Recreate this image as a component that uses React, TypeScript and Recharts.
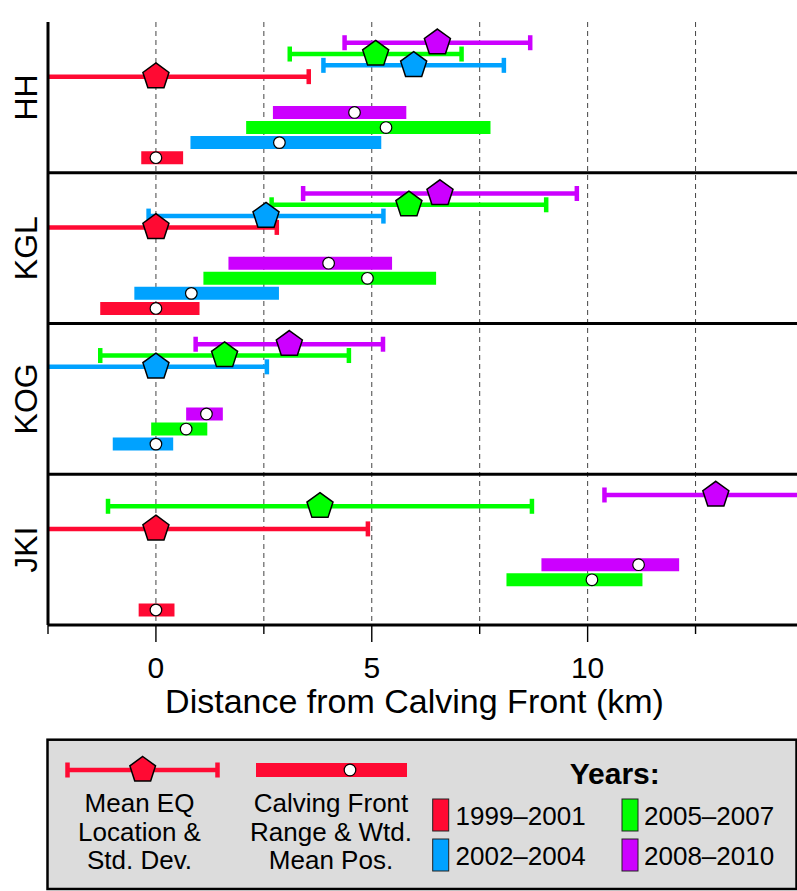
import { ComposedChart, XAxis, YAxis, Scatter, ErrorBar, CartesianGrid, ReferenceLine } from "recharts"

const FONT = '"Liberation Sans", Arial, Helvetica, sans-serif'

const sites = ["HH", "KGL", "KOG", "JKI"]
const periods = ["1999–2001", "2002–2004", "2005–2007", "2008–2010"]
const periodColors = ["#ff0a33", "#00a2ff", "#00ff00", "#cc00ff"]
const xTicks = [-2.5, 0, 2.5, 5, 7.5, 10, 12.5]
const gridValues = [0, 2.5, 5, 7.5, 10, 12.5]
const siteTicks = [5, 15, 25, 35]

// mean earthquake location (km from calving front), one value per site; null = no events
const eqMean9901 = [0, 0, null, 0]
const eqMean0204 = [5.97, 2.55, 0, null]
const eqMean0507 = [5.09, 5.86, 1.59, 3.8]
const eqMean0810 = [6.52, 6.58, 3.09, 12.97]

// std. dev. of earthquake location (km)
const eqStd9901 = [3.54, 2.8, null, 4.91]
const eqStd0204 = [2.09, 2.72, 2.57, null]
const eqStd0507 = [1.99, 3.18, 2.88, 4.91]
const eqStd0810 = [2.15, 3.17, 2.17, 2.58]

// calving front range (km)
const frontMin9901 = [-0.34, -1.29, null, -0.4]
const frontMax9901 = [0.63, 1.01, null, 0.43]
const frontMin0204 = [0.8, -0.5, -1.0, null]
const frontMax0204 = [5.22, 2.85, 0.4, null]
const frontMin0507 = [2.09, 1.1, -0.11, 8.12]
const frontMax0507 = [7.75, 6.49, 1.19, 11.27]
const frontMin0810 = [2.71, 1.68, 0.7, 8.93]
const frontMax0810 = [5.8, 5.47, 1.55, 12.12]

// weighted mean front position (km)
const frontPos9901 = [0, 0, null, 0]
const frontPos0204 = [2.86, 0.82, 0, null]
const frontPos0507 = [5.33, 4.9, 0.7, 10.1]
const frontPos0810 = [4.6, 4.0, 1.17, 11.18]

const eqMeans = [eqMean9901, eqMean0204, eqMean0507, eqMean0810]
const eqStds = [eqStd9901, eqStd0204, eqStd0507, eqStd0810]
const frontMins = [frontMin9901, frontMin0204, frontMin0507, frontMin0810]
const frontMaxs = [frontMax9901, frontMax0204, frontMax0507, frontMax0810]
const frontPositions = [frontPos9901, frontPos0204, frontPos0507, frontPos0810]

type Pt = { x: number; y: number; err: number | number[] }

// each site panel is 10 units tall: EQ rows near the top, front bars near the bottom
function eqData(p: number): Pt[] {
  const out: Pt[] = []
  sites.forEach((_, s) => {
    const m = eqMeans[p][s]
    const sd = eqStds[p][s]
    if (m === null || sd === null) return
    out.push({ x: m, y: s * 10 + 1.375 + 0.75 * (3 - p), err: sd })
  })
  return out
}

function frontData(p: number): Pt[] {
  const out: Pt[] = []
  sites.forEach((_, s) => {
    const lo = frontMins[p][s]
    const hi = frontMaxs[p][s]
    const pos = frontPositions[p][s]
    if (lo === null || hi === null || pos === null) return
    out.push({ x: pos, y: s * 10 + 9 - p, err: [pos - lo, hi - pos] })
  })
  return out
}

function pentagonPoints(cx: number, cy: number, r: number) {
  return [0, 1, 2, 3, 4]
    .map((i) => {
      const a = -Math.PI / 2 + (i * 2 * Math.PI) / 5
      return `${cx + r * Math.cos(a)},${cy + r * Math.sin(a)}`
    })
    .join(" ")
}

function Pentagon(props: any) {
  const { cx, cy, fill } = props
  return <polygon points={pentagonPoints(cx, cy, 13.7)} fill={fill} stroke="#000" strokeWidth={1.5} />
}

function WhiteDot(props: any) {
  const { cx, cy } = props
  return <circle cx={cx} cy={cy} r={5.8} fill="#fff" stroke="#000" strokeWidth={1.2} />
}

function BottomTick(props: any) {
  const { x, y, payload } = props
  const major = payload.value % 5 === 0
  return (
    <g>
      <line x1={x} x2={x} y1={y} y2={y + (major ? 17 : 9)} stroke="#000" strokeWidth={1.4} />
      {major && (
        <text x={x} y={y + 42} textAnchor="middle" dominantBaseline="central" fontSize={30} fontFamily={FONT} fill="#000">
          {payload.value}
        </text>
      )}
    </g>
  )
}

function TopTick(props: any) {
  const { x, y, payload } = props
  const major = payload.value % 5 === 0
  return <line x1={x} x2={x} y1={y} y2={y - (major ? 17 : 9)} stroke="#000" strokeWidth={1.4} />
}

function SiteTick(props: any) {
  const { x, y, payload } = props
  const name = sites[Math.floor(payload.value / 10)]
  return (
    <text
      x={x}
      y={y}
      transform={`rotate(-90 ${x} ${y})`}
      textAnchor="middle"
      dominantBaseline="central"
      fontSize={32}
      fontFamily={FONT}
      fill="#000"
    >
      {name}
    </text>
  )
}

function AxisTitle(props: any) {
  const { x, y, width } = props.viewBox
  return (
    <text x={x + width / 2 - 8} y={y + 88} textAnchor="middle" fontSize={34} fontFamily={FONT} fill="#000">
      Distance from Calving Front (km)
    </text>
  )
}

function Legend() {
  const red = periodColors[0]
  const lines1 = ["Mean EQ", "Location &", "Std. Dev."]
  const lines2 = ["Calving Front", "Range & Wtd.", "Mean Pos."]
  const rowsY = [73, 102, 130]
  const swatches = [
    { x: 432.7, y: 69, tx: 455.5, ty: 86 },
    { x: 432.7, y: 109, tx: 455.5, ty: 126 },
    { x: 622, y: 69, tx: 644, ty: 86 },
    { x: 622, y: 109, tx: 644, ty: 126 },
  ]
  return (
    <svg width={797} height={161} style={{ position: "absolute", left: 0, top: 730 }}>
      <rect x={47.5} y={9.7} width={749} height={149.3} fill="#dcdcdc" stroke="#000" strokeWidth={2.5} />
      <line x1={67.5} x2={217.5} y1={40} y2={40} stroke={red} strokeWidth={4.5} />
      <line x1={67.5} x2={67.5} y1={32.5} y2={47.5} stroke={red} strokeWidth={4.5} />
      <line x1={217.5} x2={217.5} y1={32.5} y2={47.5} stroke={red} strokeWidth={4.5} />
      <polygon points={pentagonPoints(142.7, 40, 13.5)} fill={red} stroke="#000" strokeWidth={1.5} />
      <rect x={256} y={33} width={151} height={14} fill={red} />
      <circle cx={350} cy={40} r={5.8} fill="#fff" stroke="#000" strokeWidth={1.2} />
      {lines1.map((t, i) => (
        <text key={t} x={139.5} y={rowsY[i]} textAnchor="middle" dominantBaseline="central" fontSize={26} fontFamily={FONT}>
          {t}
        </text>
      ))}
      {lines2.map((t, i) => (
        <text key={t} x={331} y={rowsY[i]} textAnchor="middle" dominantBaseline="central" fontSize={26} fontFamily={FONT}>
          {t}
        </text>
      ))}
      <text x={614.7} y={43} textAnchor="middle" dominantBaseline="central" fontSize={30} fontWeight="bold" fontFamily={FONT}>
        Years:
      </text>
      {periods.map((p, i) => (
        <g key={p}>
          <rect x={swatches[i].x} y={swatches[i].y} width={16} height={32} fill={periodColors[i]} stroke="#222" strokeWidth={1} />
          <text x={swatches[i].tx} y={swatches[i].ty} dominantBaseline="central" fontSize={26} fontFamily={FONT}>
            {p}
          </text>
        </g>
      ))}
    </svg>
  )
}

// whiskers that run past the x-range get cut at the left/right frame
function PlotClip() {
  return (
    <svg width={0} height={0} style={{ position: "absolute" }}>
      <defs>
        <clipPath id="plot-clip" clipPathUnits="userSpaceOnUse">
          <rect x={48} y={0} width={749} height={730} />
        </clipPath>
      </defs>
    </svg>
  )
}

export default function App() {
  return (
    <div style={{ position: "absolute", left: 0, top: 0, width: 797, height: 891, background: "#fff", fontFamily: FONT }}>
      <style>{`.recharts-errorBar, [class*="errorBar"] { clip-path: url(#plot-clip); }`}</style>
      <PlotClip />
      <ComposedChart width={797} height={730} margin={{ top: 22, right: 0, bottom: 0, left: 0 }}>
        <CartesianGrid horizontal={false} verticalValues={gridValues} stroke="#444" strokeDasharray="5 4" strokeWidth={1} />
        <XAxis
          dataKey="x"
          type="number"
          domain={[-2.5, 14.85]}
          allowDataOverflow
          ticks={xTicks}
          interval={0}
          height={105}
          tickSize={0}
          tickMargin={0}
          tickLine={false}
          axisLine={{ stroke: "#000", strokeWidth: 3 }}
          tick={<BottomTick />}
          label={<AxisTitle />}
        />
        <XAxis
          xAxisId="top"
          orientation="top"
          dataKey="x"
          type="number"
          domain={[-2.5, 14.85]}
          allowDataOverflow
          ticks={xTicks}
          interval={0}
          height={0}
          tickSize={0}
          tickMargin={0}
          tickLine={false}
          axisLine={{ stroke: "#000", strokeWidth: 3 }}
          tick={<TopTick />}
        />
        <YAxis
          dataKey="y"
          type="number"
          domain={[0, 40]}
          allowDataOverflow
          reversed
          ticks={siteTicks}
          interval={0}
          width={48}
          tickSize={0}
          tickMargin={22}
          tickLine={false}
          axisLine={{ stroke: "#000", strokeWidth: 3 }}
          tick={<SiteTick />}
        />
        {[10, 20, 30].map((v) => (
          <ReferenceLine key={v} y={v} stroke="#000" strokeWidth={3} />
        ))}

        {/* calving front range bars with weighted mean position */}
        {periods.map((p, i) => (
          <Scatter key={`front-${p}`} data={frontData(i)} fill={periodColors[i]} shape={WhiteDot} isAnimationActive={false}>
            <ErrorBar dataKey="err" direction="x" width={0} stroke={periodColors[i]} strokeWidth={13} isAnimationActive={false} />
          </Scatter>
        ))}

        {/* std. dev. whiskers first so every pentagon sits on top */}
        {periods.map((p, i) => (
          <Scatter key={`eqbar-${p}`} data={eqData(i)} fill={periodColors[i]} shape={() => <g />} isAnimationActive={false}>
            <ErrorBar dataKey="err" direction="x" width={7.5} stroke={periodColors[i]} strokeWidth={4.5} isAnimationActive={false} />
          </Scatter>
        ))}
        {periods.map((p, i) => (
          <Scatter key={`eq-${p}`} data={eqData(i)} fill={periodColors[i]} shape={Pentagon} isAnimationActive={false} />
        ))}
      </ComposedChart>
      <Legend />
    </div>
  )
}
